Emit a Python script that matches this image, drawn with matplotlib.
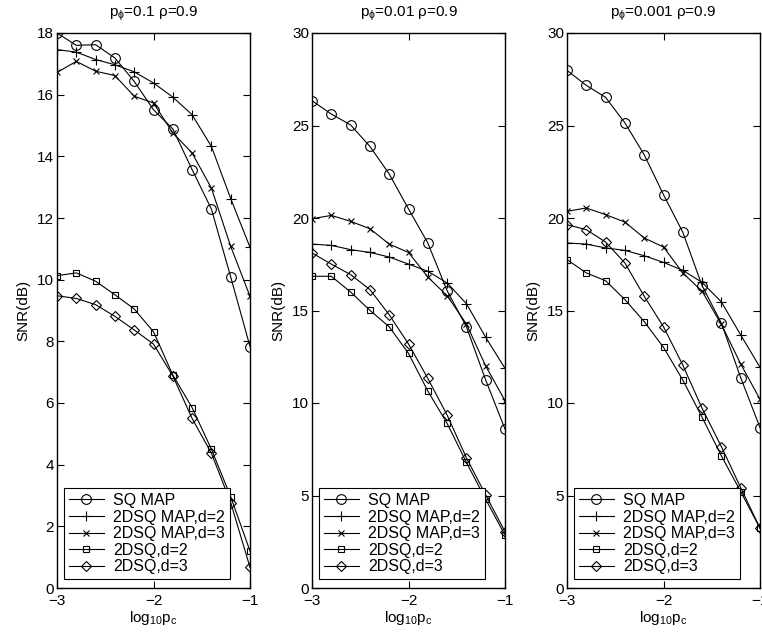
import matplotlib

matplotlib.use("Agg")
import matplotlib.pyplot as plt

plt.rcParams["font.family"] = ["Liberation Sans", "DejaVu Sans"]
plt.rcParams["mathtext.fontset"] = "custom"
plt.rcParams["mathtext.rm"] = "Liberation Sans"
plt.rcParams["mathtext.it"] = "Liberation Sans"
plt.rcParams["font.size"] = 11

log_pc = [-3.0, -2.8, -2.6, -2.4, -2.2, -2.0, -1.8, -1.6, -1.4, -1.2, -1.0]

labels = ["SQ MAP", "2DSQ MAP,d=2", "2DSQ MAP,d=3", "2DSQ,d=2", "2DSQ,d=3"]
titles = [r"p$_\phi$=0.1 ρ=0.9", r"p$_\phi$=0.01 ρ=0.9", r"p$_\phi$=0.001 ρ=0.9"]

# p_phi = 0.1
sq_map_1 = [18.0, 17.6, 17.62, 17.19, 16.43, 15.51, 14.89, 13.57, 12.29, 10.09, 7.83]
map_d2_1 = [17.46, 17.38, 17.14, 16.97, 16.74, 16.38, 15.92, 15.35, 14.32, 12.63, 11.05]
map_d3_1 = [16.72, 17.08, 16.76, 16.62, 15.95, 15.73, 14.76, 14.11, 12.97, 11.08, 9.46]
sq_d2_1 = [10.13, 10.22, 9.95, 9.51, 9.05, 8.31, 6.91, 5.85, 4.50, 2.96, 1.20]
sq_d3_1 = [9.48, 9.39, 9.19, 8.81, 8.37, 7.91, 6.88, 5.50, 4.37, 2.77, 0.67]

# p_phi = 0.01
sq_map_2 = [26.34, 25.62, 25.03, 23.87, 22.38, 20.49, 18.65, 16.07, 14.12, 11.24, 8.59]
map_d2_2 = [18.59, 18.52, 18.29, 18.14, 17.89, 17.51, 17.12, 16.49, 15.37, 13.55, 11.87]
map_d3_2 = [19.96, 20.14, 19.82, 19.42, 18.59, 18.14, 16.81, 15.80, 14.27, 12.0, 10.13]
sq_d2_2 = [16.85, 16.85, 16.0, 15.01, 14.12, 12.68, 10.65, 8.90, 6.79, 4.79, 2.86]
sq_d3_2 = [18.11, 17.51, 16.94, 16.13, 14.77, 13.19, 11.33, 9.35, 7.04, 5.03, 3.04]

# p_phi = 0.001
sq_map_3 = [27.98, 27.17, 26.52, 25.14, 23.42, 21.26, 19.23, 16.34, 14.31, 11.37, 8.67]
map_d2_3 = [18.65, 18.59, 18.38, 18.25, 17.96, 17.60, 17.17, 16.52, 15.46, 13.68, 11.93]
map_d3_3 = [20.36, 20.54, 20.18, 19.78, 18.92, 18.43, 17.03, 16.04, 14.25, 12.11, 10.2]
sq_d2_3 = [17.75, 17.03, 16.61, 15.59, 14.4, 13.01, 11.24, 9.23, 7.14, 5.21, 3.23]
sq_d3_3 = [19.64, 19.37, 18.70, 17.57, 15.77, 14.12, 12.05, 9.71, 7.64, 5.42, 3.23]

panels = [
    [sq_map_1, map_d2_1, map_d3_1, sq_d2_1, sq_d3_1],
    [sq_map_2, map_d2_2, map_d3_2, sq_d2_2, sq_d3_2],
    [sq_map_3, map_d2_3, map_d3_3, sq_d2_3, sq_d3_3],
]
yticks = [list(range(0, 19, 2)), list(range(0, 31, 5)), list(range(0, 31, 5))]
ylims = [18, 30, 30]

markers = [("o", 7), ("+", 7.5), ("x", 5), ("s", 5), ("D", 5)]

fig = plt.figure(figsize=(7.62, 6.41), dpi=100)
lefts = [57 / 762, 312 / 762, 567 / 762]
for i, left in enumerate(lefts):
    ax = fig.add_axes([left, 53 / 641, 193 / 762, 555 / 641])
    for series, label, (m, ms) in zip(panels[i], labels, markers):
        ax.plot(log_pc, series, color="black", lw=0.8, marker=m, ms=ms,
                mfc="none", mec="black", mew=0.8, label=label)
    ax.set_xlim(-3, -1)
    ax.set_ylim(0, ylims[i])
    ax.set_xticks([-3, -2, -1])
    ax.set_xticklabels(["\u22123", "\u22122", "\u22121"])
    ax.set_yticks(yticks[i])
    ax.tick_params(direction="in", top=True, right=True, length=5, width=0.8,
                   labelsize=11, pad=2)
    ax.tick_params(axis="x", pad=4)
    for sp in ax.spines.values():
        sp.set_linewidth(1.0)
    ax.set_title(titles[i], fontsize=11, pad=12)
    ax.set_ylabel("SNR(dB)", labelpad=5)
    ax.set_xlabel(r"log$_{10}$p$_c$", labelpad=1)
    leg = ax.legend(loc="lower left", bbox_to_anchor=(0.036, 0.016), fancybox=False,
                    edgecolor="black", framealpha=1, handlelength=2.2,
                    borderpad=0.3, labelspacing=0.1, handletextpad=0.6,
                    borderaxespad=0.0, fontsize=11.5)
    leg.get_frame().set_linewidth(0.8)

fig.savefig("out.png", dpi=100)
